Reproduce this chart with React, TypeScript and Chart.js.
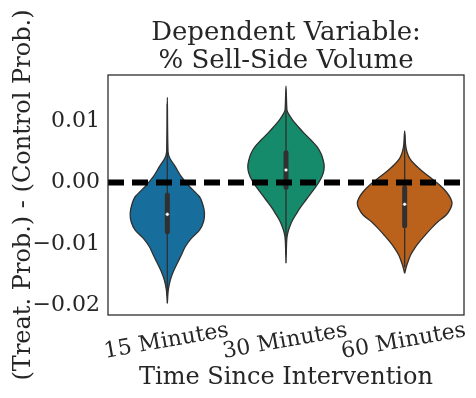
import React, { useEffect, useRef } from "react";
import { Chart, registerables } from "chart.js";

Chart.register(...registerables);

const FONT = "'DejaVu Serif', 'Liberation Serif', serif";
const TEXT = "#262626";
const GRAY = "#303030";

const titleLines = ["Dependent Variable:", "% Sell-Side Volume"];
const xTitle = "Time Since Intervention";
const yTitle = "(Treat. Prob.) - (Control Prob.)";
const categories = ["15 Minutes", "30 Minutes", "60 Minutes"];
const yTicks = [-0.02, -0.01, 0.0, 0.01];
const colors = ["#176d9c", "#168b6b", "#ba611b"];

// violin outlines: levels from bottom tip to top tip, half-widths in category units
const blueLevels = [-0.0197, -0.01753, -0.0159, -0.01454, -0.01317, -0.01182, -0.01047, -0.0091, -0.00775, -0.00639, -0.00502, -0.00367, -0.00232, -0.00068, 0.00095, 0.00258, 0.00395, 0.00502, 0.01389];
const blueHalfWidths = [0, 0.008, 0.025, 0.05, 0.084, 0.118, 0.151, 0.202, 0.271, 0.305, 0.313, 0.3, 0.271, 0.188, 0.118, 0.067, 0.021, 0.006, 0];

const greenLevels = [-0.01317, -0.00938, -0.00828, -0.00721, -0.00611, -0.00502, -0.00395, -0.00285, -0.00176, -0.00068, 0.00041, 0.0015, 0.00258, 0.00367, 0.00476, 0.00584, 0.00693, 0.00802, 0.0091, 0.01019, 0.01128, 0.01182, 0.01573];
const greenHalfWidths = [0, 0.006, 0.014, 0.031, 0.056, 0.09, 0.126, 0.168, 0.21, 0.252, 0.288, 0.313, 0.322, 0.313, 0.294, 0.261, 0.21, 0.154, 0.103, 0.056, 0.019, 0.008, 0];

const orangeLevels = [-0.01481, -0.01373, -0.01291, -0.01182, -0.01073, -0.00965, -0.00856, -0.00747, -0.00639, -0.0053, -0.00421, -0.00339, -0.00258, -0.0015, -0.00041, 0.00068, 0.00176, 0.00285, 0.00395, 0.00502, 0.00611, 0.0084];
const orangeHalfWidths = [0, 0.014, 0.028, 0.05, 0.084, 0.126, 0.174, 0.224, 0.28, 0.35, 0.387, 0.399, 0.387, 0.35, 0.294, 0.224, 0.154, 0.09, 0.042, 0.019, 0.008, 0];

// inner box plot
const q1 = [-0.00802, -0.00078, -0.00704];
const medians = [-0.00519, 0.00204, -0.00355];
const q3 = [-0.00204, 0.00486, -0.00085];
const whiskerLow = [-0.0185, -0.0118, -0.0138];
const whiskerHigh = [0.0128, 0.0145, 0.0078];

const referenceLine = 0.0;

const violinLevels = [blueLevels, greenLevels, orangeLevels];
const violinWidths = [blueHalfWidths, greenHalfWidths, orangeHalfWidths];

function violinPoints(center: number, levels: number[], widths: number[]) {
  const left = levels.map((y, i) => ({ x: center - widths[i], y }));
  const right = levels.map((y, i) => ({ x: center + widths[i], y })).reverse();
  return [...left, ...right.slice(1)];
}

const framePlugin = {
  id: "frameAndLabels",
  afterDraw(chart: any) {
    const { ctx, chartArea } = chart;
    const { left, right, top, bottom } = chartArea;
    ctx.save();
    // frame
    ctx.strokeStyle = TEXT;
    ctx.lineWidth = 1.25;
    ctx.strokeRect(left, top, right - left, bottom - top);
    // title centred over the axes
    ctx.fillStyle = TEXT;
    ctx.font = `26px ${FONT}`;
    ctx.textAlign = "center";
    ctx.textBaseline = "alphabetic";
    const cx = (left + right) / 2;
    titleLines.forEach((t, i) => ctx.fillText(t, cx, 40 + i * 27.7));
    // rotated, centred category labels
    ctx.font = `22px ${FONT}`;
    const xs = chart.scales.x;
    categories.forEach((c, i) => {
      const px = xs.getPixelForValue(i);
      ctx.save();
      ctx.translate(px, bottom + 32);
      ctx.rotate((-10 * Math.PI) / 180);
      ctx.fillText(c, 0, 0);
      ctx.restore();
    });
    ctx.restore();
  },
};

export default function App() {
  const ref = useRef<HTMLCanvasElement | null>(null);
  useEffect(() => {
    if (!ref.current) return;
    const datasets: any[] = [];
    categories.forEach((_, i) => {
      datasets.push({
        type: "line",
        data: violinPoints(i, violinLevels[i], violinWidths[i]),
        borderColor: GRAY,
        borderWidth: 1.3,
        backgroundColor: colors[i],
        fill: "shape",
        tension: 0.3,
        pointRadius: 0,
        order: 5,
      });
      datasets.push({
        type: "line",
        data: [{ x: i, y: whiskerLow[i] }, { x: i, y: whiskerHigh[i] }],
        borderColor: GRAY,
        borderWidth: 1.3,
        pointRadius: 0,
        fill: false,
        order: 4,
      });
      datasets.push({
        type: "line",
        data: [{ x: i, y: q1[i] }, { x: i, y: q3[i] }],
        borderColor: GRAY,
        borderWidth: 5,
        borderCapStyle: "round",
        pointRadius: 0,
        fill: false,
        order: 3,
      });
      datasets.push({
        type: "line",
        data: [{ x: i, y: medians[i] }],
        showLine: false,
        pointRadius: 1.8,
        pointBackgroundColor: "#ffffff",
        pointBorderColor: GRAY,
        pointBorderWidth: 0.4,
        order: 1,
      });
    });
    datasets.push({
      type: "line",
      data: [{ x: -0.5, y: referenceLine }, { x: categories.length - 0.5, y: referenceLine }],
      borderColor: "#000000",
      borderWidth: 6,
      borderDash: [16, 8],
      borderCapStyle: "butt",
      pointRadius: 0,
      fill: false,
      order: 2,
    });

    const chart = new Chart(ref.current, {
      type: "line",
      data: { datasets },
      options: {
        animation: false,
        responsive: false,
        devicePixelRatio: 1,
        layout: { padding: { top: 75, right: 12, left: 0, bottom: 0 } },
        plugins: {
          legend: { display: false },
          tooltip: { enabled: false },
          title: { display: false },
        },
        scales: {
          x: {
            type: "linear",
            min: -0.5,
            max: categories.length - 0.5,
            grid: { display: false },
            border: { display: false },
            ticks: { display: false },
            title: {
              display: true,
              text: xTitle,
              color: TEXT,
              font: { family: FONT, size: 24 },
              padding: { top: 0, bottom: 6 },
            },
            afterFit: (scale: any) => {
              scale.height = 83;
            },
          },
          y: {
            type: "linear",
            min: -0.0216,
            max: 0.01753,
            grid: { display: false, drawTicks: false },
            border: { display: false },
            afterBuildTicks: (scale: any) => {
              scale.ticks = yTicks.map((v) => ({ value: v }));
            },
            ticks: {
              autoSkip: false,
              padding: 8,
              color: TEXT,
              font: { family: FONT, size: 22 },
              callback: (v: any) => {
                const n = Number(v);
                const s = Math.abs(n).toFixed(2);
                return n < -1e-9 ? "\u2212" + s : s;
              },
            },
            title: {
              display: true,
              text: yTitle,
              color: TEXT,
              font: { family: FONT, size: 24 },
              padding: { top: 9, bottom: 0 },
            },
            afterFit: (scale: any) => {
              scale.width = 108;
            },
          },
        },
      },
      plugins: [framePlugin],
    });
    return () => chart.destroy();
  }, []);

  return (
    <div style={{ position: "absolute", left: 0, top: 0, width: 476, height: 398, background: "#ffffff" }}>
      <canvas ref={ref} width={476} height={398} style={{ display: "block" }} />
    </div>
  );
}
